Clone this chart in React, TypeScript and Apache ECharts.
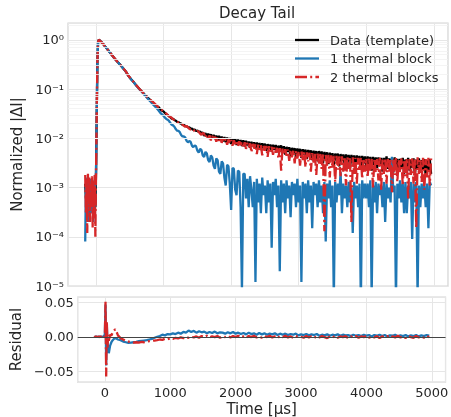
import React, { useEffect, useRef } from "react";
import * as echarts from "echarts";

// Time grid of the decay panel (μs)
const T_MAIN: number[] = [
  -160, -150, -140, -130, -120, -110, -100, -90, -80, -70, -60, -50, -40, -30, -20, -10, 0,
  10, 20, 30, 40, 50, 60, 80, 100, 120, 140, 160, 180, 200,
  240, 280, 320, 360, 400, 440, 480, 520, 560, 600, 640, 680, 720, 760, 800, 840, 880, 920, 960,
  1000, 1020, 1040, 1060, 1080, 1100, 1120, 1140, 1160, 1180, 1200, 1220, 1240, 1260, 1280, 1300, 1320, 1340, 1360, 1380, 1400, 1420, 1440, 1460, 1480, 1500, 1520, 1540, 1560, 1580,
  1600, 1620, 1640, 1660, 1680, 1700, 1720, 1740, 1760, 1780, 1800, 1820, 1840, 1860, 1880, 1900, 1920, 1940, 1960, 1980, 2000, 2020, 2040, 2060, 2080, 2100, 2120, 2140, 2160, 2180,
  2200, 2220, 2240, 2260, 2280, 2300, 2320, 2340, 2360, 2380, 2400, 2420, 2440, 2460, 2480, 2500, 2520, 2540, 2560, 2580, 2600, 2620, 2640, 2660, 2680, 2700, 2720, 2740, 2760, 2780,
  2800, 2820, 2840, 2860, 2880, 2900, 2920, 2940, 2960, 2980, 3000, 3020, 3040, 3060, 3080, 3100, 3120, 3140, 3160, 3180, 3200, 3220, 3240, 3260, 3280, 3300, 3320, 3340, 3360, 3380,
  3400, 3420, 3440, 3460, 3480, 3500, 3520, 3540, 3560, 3580, 3600, 3620, 3640, 3660, 3680, 3700, 3720, 3740, 3760, 3780, 3800, 3820, 3840, 3860, 3880, 3900, 3920, 3940, 3960, 3980,
  4000, 4020, 4040, 4060, 4080, 4100, 4120, 4140, 4160, 4180, 4200, 4220, 4240, 4260, 4280, 4300, 4320, 4340, 4360, 4380, 4400, 4420, 4440, 4460, 4480, 4500, 4520, 4540, 4560, 4580,
  4600, 4620, 4640, 4660, 4680, 4700, 4720, 4740, 4760, 4780, 4800, 4820, 4840, 4860, 4880, 4900, 4920, 4940, 4960,
];

// Data (template), normalized |ΔI|
const DATA_TEMPLATE: number[] = [
  0.0012, 0.0006, 0.0013, 0.0004, 0.0009, 0.0003, 0.0011, 0.0007, 0.0012, 0.0005, 0.001, 0.0003, 0.0013, 0.0006, 0.0009, 0.0004, 0.002,
  0.03, 0.35, 0.88, 1.0, 0.985, 0.955, 0.9, 0.84, 0.78, 0.72, 0.665, 0.615, 0.565,
  0.48, 0.41, 0.355, 0.31, 0.265, 0.228, 0.185, 0.158, 0.137, 0.117, 0.101, 0.088, 0.077, 0.068, 0.0605, 0.054, 0.0475, 0.0435, 0.0378,
  0.0352, 0.0328, 0.0305, 0.0298, 0.0281, 0.0268, 0.0252, 0.0249, 0.0236, 0.0228, 0.0216, 0.0214, 0.0203, 0.0199, 0.0188, 0.0187, 0.0178, 0.0176, 0.0166, 0.0167, 0.0157, 0.0158, 0.0148, 0.0151, 0.0141, 0.0144, 0.0134, 0.0138, 0.0127, 0.0132,
  0.0112, 0.0128, 0.0108, 0.0124, 0.0103, 0.0121, 0.0099, 0.0118, 0.0097, 0.0113, 0.0092, 0.0112, 0.0089, 0.0108, 0.0086, 0.0106, 0.0083, 0.0104, 0.0081, 0.0101, 0.0077, 0.0099, 0.0079, 0.0096, 0.0073, 0.0094, 0.0075, 0.0092, 0.007, 0.0091,
  0.0068, 0.0089, 0.0072, 0.0086, 0.0064, 0.0085, 0.0069, 0.0083, 0.0061, 0.0082, 0.0066, 0.008, 0.0058, 0.0079, 0.0063, 0.0078, 0.0056, 0.0076, 0.0061, 0.0075, 0.0054, 0.0074, 0.0059, 0.0073, 0.0052, 0.0071, 0.0057, 0.0072, 0.005, 0.0069,
  0.0047, 0.0067, 0.0053, 0.0066, 0.0044, 0.0064, 0.0051, 0.0063, 0.0042, 0.0062, 0.0049, 0.0061, 0.004, 0.006, 0.0047, 0.0059, 0.0038, 0.0058, 0.0045, 0.0057, 0.0036, 0.0056, 0.0043, 0.0055, 0.0034, 0.0055, 0.0041, 0.0054, 0.0031, 0.0053,
  0.0039, 0.0052, 0.003, 0.0051, 0.0038, 0.005, 0.0028, 0.0049, 0.0036, 0.0049, 0.0027, 0.0048, 0.0035, 0.0047, 0.0029, 0.0047, 0.0034, 0.0046, 0.0025, 0.0046, 0.0033, 0.0045, 0.0027, 0.0045, 0.0032, 0.0044, 0.0024, 0.0044, 0.0031, 0.0043,
  0.0026, 0.0043, 0.003, 0.0042, 0.0022, 0.0042, 0.0029, 0.0041, 0.0025, 0.0041, 0.0028, 0.004, 0.0021, 0.004, 0.0027, 0.0043, 0.0024, 0.0039, 0.0026, 0.0039, 0.002, 0.0041, 0.0027, 0.0038, 0.0023, 0.0038, 0.0025, 0.004, 0.0019, 0.0037,
  0.0026, 0.004, 0.0022, 0.0037, 0.0025, 0.0039, 0.0018, 0.0037, 0.0024, 0.0039, 0.0021, 0.0036, 0.0023, 0.0038, 0.0017, 0.0036, 0.0022, 0.0038, 0.0019,
];

// 1 thermal block fit
const ONE_BLOCK: number[] = [
  0.00008, 0.0011, 0.0004, 0.0016, 0.0002, 0.0012, 0.0005, 0.0015, 0.0003, 0.001, 0.0006, 0.0014, 0.0002, 0.0012, 0.0004, 0.0015, 0.002,
  0.026, 0.36, 0.89, 0.995, 0.98, 0.955, 0.9, 0.84, 0.78, 0.72, 0.665, 0.615, 0.565,
  0.479, 0.409, 0.354, 0.309, 0.264, 0.227, 0.184, 0.157, 0.136, 0.116, 0.1, 0.087, 0.0755, 0.0655, 0.057, 0.0495, 0.0432, 0.0376, 0.032,
  0.0285, 0.0262, 0.0248, 0.0239, 0.0226, 0.0204, 0.0189, 0.0183, 0.0172, 0.0154, 0.0143, 0.0141, 0.0133, 0.0117, 0.0109, 0.0109, 0.0104, 0.0089, 0.0083, 0.0088, 0.0085, 0.0071, 0.0066, 0.0072, 0.0069, 0.0056, 0.0051, 0.0061, 0.0058, 0.0045,
  0.0042, 0.0053, 0.0049, 0.0036, 0.0033, 0.0045, 0.0041, 0.0028, 0.0024, 0.0039, 0.0036, 0.0021, 0.0019, 0.0034, 0.0031, 0.0016, 0.0011, 0.0029, 0.0027, 0.0012, 0.00035, 0.0025, 0.0024, 0.0009, 0.0007, 0.0022, 0.0021, 0.0004, 0.000008, 0.0019,
  0.0019, 0.0006, 0.0015, 0.0004, 0.0017, 0.0009, 0.0004, 0.0013, 0.000012, 0.0015, 0.0005, 0.0012, 0.0003, 0.0016, 0.0007, 0.0011, 0.0003, 0.0014, 0.0005, 0.0012, 0.00006, 0.0013, 0.0007, 0.0015, 0.0004, 0.0011, 0.00002, 0.0014, 0.0005, 0.0012,
  0.0003, 0.0014, 0.0006, 0.0011, 0.00025, 0.0013, 0.0007, 0.0012, 0.0004, 0.0015, 0.0005, 0.0011, 0.000012, 0.0013, 0.0006, 0.0012, 0.0003, 0.0014, 0.0005, 0.0011, 0.00015, 0.0013, 0.0007, 0.0012, 0.0004, 0.0014, 0.0005, 0.0011, 0.0003, 0.0013,
  0.00008, 0.0012, 0.0006, 0.0014, 0.0004, 0.0011, 0.000005, 0.0013, 0.0005, 0.0012, 0.0007, 0.0021, 0.0003, 0.0012, 0.0006, 0.0011, 0.0004, 0.0013, 0.0005, 0.001, 0.00012, 0.0013, 0.0006, 0.0011, 0.0004, 0.0012, 0.000004, 0.0014, 0.0006, 0.0012,
  0.0006, 0.0012, 0.0004, 0.0014, 0.000006, 0.0011, 0.0005, 0.0013, 0.0003, 0.0012, 0.0007, 0.0011, 0.0004, 0.0013, 0.0002, 0.0012, 0.0006, 0.001, 0.0005, 0.0042, 0.0008, 0.0011, 0.000005, 0.0012, 0.0006, 0.0014, 0.0005, 0.0012, 0.0003, 0.0013,
  0.0003, 0.0011, 0.0006, 0.0013, 0.00009, 0.0012, 0.0005, 0.0013, 0.000006, 0.0011, 0.0004, 0.0012, 0.0006, 0.0011, 0.0004, 0.0012, 0.00015, 0.0013, 0.0011,
];

// 2 thermal blocks fit
const TWO_BLOCKS: number[] = [
  0.0018, 0.0003, 0.0015, 0.00012, 0.0019, 0.0004, 0.0016, 0.0002, 0.0012, 0.0006, 0.0017, 0.00015, 0.0014, 0.0003, 0.0018, 0.0001, 0.002,
  0.028, 0.37, 0.9, 1.0, 0.985, 0.955, 0.9, 0.84, 0.78, 0.72, 0.665, 0.615, 0.565,
  0.48, 0.412, 0.356, 0.31, 0.266, 0.229, 0.186, 0.159, 0.138, 0.118, 0.102, 0.089, 0.078, 0.0685, 0.061, 0.0548, 0.0488, 0.0432, 0.0392,
  0.0348, 0.0335, 0.0318, 0.0296, 0.0281, 0.0272, 0.0262, 0.0244, 0.0236, 0.0231, 0.0223, 0.0207, 0.0199, 0.0201, 0.0192, 0.0179, 0.0172, 0.0178, 0.0169, 0.0156, 0.0151, 0.0158, 0.0152, 0.0139, 0.0132, 0.0141, 0.0136, 0.0125, 0.0118, 0.0129,
  0.0124, 0.0102, 0.0119, 0.0098, 0.0115, 0.0091, 0.0112, 0.0094, 0.0108, 0.0085, 0.0106, 0.0089, 0.0103, 0.0081, 0.0101, 0.0084, 0.0097, 0.0074, 0.0095, 0.0079, 0.0092, 0.0071, 0.0091, 0.0076, 0.0088, 0.0068, 0.0087, 0.0073, 0.0085, 0.0064,
  0.0083, 0.0061, 0.0081, 0.0066, 0.0079, 0.0052, 0.0077, 0.0062, 0.0076, 0.0048, 0.0074, 0.0059, 0.0073, 0.0045, 0.0071, 0.0056, 0.007, 0.0042, 0.0069, 0.0054, 0.0067, 0.0046, 0.0066, 0.0051, 0.0064, 0.0039, 0.0063, 0.0022, 0.0062, 0.0047,
  0.006, 0.0044, 0.0059, 0.0035, 0.0058, 0.0041, 0.0057, 0.0031, 0.0056, 0.0039, 0.0055, 0.0028, 0.0054, 0.0036, 0.0053, 0.0026, 0.0052, 0.0034, 0.0051, 0.0021, 0.005, 0.0032, 0.0049, 0.0018, 0.0049, 0.003, 0.0048, 0.0024, 0.0047, 0.00013,
  0.0046, 0.0027, 0.0046, 0.0016, 0.0045, 0.0025, 0.0044, 0.0013, 0.0044, 0.0023, 0.0043, 0.0017, 0.0043, 0.0021, 0.0042, 0.0011, 0.0042, 0.0024, 0.0041, 0.0002, 0.0041, 0.0019, 0.004, 0.0012, 0.004, 0.0022, 0.0041, 0.0015, 0.0039, 0.0021,
  0.0039, 0.0016, 0.004, 0.0022, 0.0038, 0.001, 0.0039, 0.002, 0.0038, 0.0014, 0.004, 0.0009, 0.0037, 0.0019, 0.0039, 0.0012, 0.0038, 0.0021, 0.0039, 0.0008, 0.0038, 0.0018, 0.0042, 0.0013, 0.0037, 0.002, 0.0039, 0.0011, 0.0037, 0.0017,
  0.0039, 0.0006, 0.0038, 0.0018, 0.0039, 0.0012, 0.0037, 0.00015, 0.0041, 0.0019, 0.0038, 0.0013, 0.004, 0.0009, 0.0038, 0.0016, 0.004, 0.0011, 0.0039,
];

// Time grid of the residual panel (μs)
const T_RES: number[] = [
  -160, -150, -140, -130, -120, -110, -100, -90, -80, -70, -60, -50, -40, -30, -20, -10, 0,
  10, 20, 30, 40, 50, 60, 80, 100, 120, 140, 160, 180, 200,
  240, 280, 320, 360, 400, 440, 480, 520, 560, 600, 640, 680, 720, 760, 800, 840, 880, 920, 960, 1000,
  1040, 1080, 1120, 1160, 1200, 1240, 1280, 1320, 1360, 1400, 1440, 1480, 1520, 1560, 1600, 1640, 1680, 1720, 1760, 1800,
  1840, 1880, 1920, 1960, 2000, 2040, 2080, 2120, 2160, 2200, 2240, 2280, 2320, 2360, 2400, 2440, 2480, 2520, 2560, 2600,
  2640, 2680, 2720, 2760, 2800, 2840, 2880, 2920, 2960, 3000, 3040, 3080, 3120, 3160, 3200, 3240, 3280, 3320, 3360, 3400,
  3440, 3480, 3520, 3560, 3600, 3640, 3680, 3720, 3760, 3800, 3840, 3880, 3920, 3960, 4000, 4040, 4080, 4120, 4160, 4200,
  4240, 4280, 4320, 4360, 4400, 4440, 4480, 4520, 4560, 4600, 4640, 4680, 4720, 4760, 4800, 4840, 4880, 4920, 4960,
];

const RES_ONE: number[] = [
  0.0004, -0.0003, 0.0006, -0.0002, 0.0003, -0.0005, 0.0004, 0.0001, -0.0004, 0.0005, -0.0002, 0.0003, -0.0006, 0.0002, 0.0004, -0.0003, 0.005,
  0.047, -0.042, 0.016, -0.009, -0.017, -0.024, -0.013, -0.008, -0.005, -0.003, -0.002, -0.003, -0.004,
  -0.005, -0.007, -0.008, -0.009, -0.0085, -0.008, -0.0075, -0.0065, -0.006, -0.0055, -0.005, -0.004, -0.003, -0.0015, 0.0, 0.001, 0.003, 0.002, 0.004, 0.0035,
  0.005, 0.004, 0.006, 0.0045, 0.007, 0.006, 0.009, 0.007, 0.0085, 0.006, 0.008, 0.0065, 0.0075, 0.005, 0.007, 0.0055, 0.0075, 0.005, 0.0065, 0.006,
  0.0045, 0.0065, 0.005, 0.007, 0.0045, 0.006, 0.004, 0.0055, 0.0035, 0.006, 0.004, 0.005, 0.003, 0.0055, 0.0035, 0.005, 0.003, 0.0045, 0.0035, 0.005,
  0.0025, 0.0045, 0.003, 0.0045, 0.0025, 0.004, 0.003, 0.0045, 0.002, 0.0035, 0.0025, 0.004, 0.002, 0.0035, 0.0025, 0.004, 0.0015, 0.003, 0.002, 0.0035,
  0.0015, 0.003, 0.002, 0.0035, 0.0015, 0.003, 0.002, 0.0025, 0.001, 0.003, 0.0015, 0.0025, 0.001, 0.003, 0.0015, 0.0025, 0.0005, 0.0025, 0.0015, 0.003,
  0.001, 0.0025, 0.0005, 0.002, 0.0015, 0.003, 0.0005, 0.002, 0.001, 0.0025, 0.0005, 0.002, 0.001, 0.0025, 0.0005, 0.002, 0.001, 0.0025, 0.0015,
];

const RES_TWO: number[] = [
  0.0008, -0.0006, 0.001, -0.0004, 0.0007, -0.0009, 0.0005, 0.0002, -0.0007, 0.0009, -0.0003, 0.0006, -0.001, 0.0004, 0.0008, -0.0005, 0.003,
  0.051, -0.058, 0.022, -0.016, 0.003, -0.006, 0.003, 0.002, 0.006, 0.009, 0.011, 0.007, 0.002,
  -0.002, -0.004, -0.006, -0.007, -0.008, -0.0085, -0.008, -0.0085, -0.0075, -0.008, -0.007, -0.0065, -0.006, -0.0055, -0.005, -0.004, -0.0045, -0.003, -0.0035, -0.002,
  -0.003, -0.0015, -0.0025, -0.001, -0.002, -0.0005, -0.0015, 0.0, -0.001, 0.0005, -0.0015, 0.001, -0.0005, 0.0015, -0.001, 0.0005, -0.0005, 0.001, -0.0015, 0.0005,
  -0.0005, 0.0015, -0.001, 0.001, -0.0005, 0.0015, -0.001, 0.0005, -0.0015, 0.001, -0.0005, 0.0015, -0.001, 0.0005, -0.0015, 0.001, -0.0005, 0.0015, -0.001, 0.0005,
  -0.002, 0.001, -0.0005, 0.0015, -0.001, 0.0005, -0.0015, 0.001, -0.0005, 0.0, -0.0015, 0.001, -0.001, 0.0005, -0.0015, 0.0005, -0.001, 0.001, -0.0005, -0.002,
  0.0005, -0.001, 0.001, -0.0015, 0.0005, -0.0005, 0.001, -0.002, 0.0005, -0.001, 0.001, -0.0015, 0.0005, -0.0005, 0.001, -0.0015, 0.0005, -0.001, 0.001, -0.002,
  0.0005, -0.0005, 0.001, -0.0015, 0.0005, -0.001, 0.0015, -0.001, 0.0005, -0.002, 0.001, -0.0005, -0.0015, 0.001, -0.001, 0.0005, -0.0015, 0.001, -0.0005,
];

const SERIES_NAMES = ["Data (template)", "1 thermal block", "2 thermal blocks"];
const SERIES_COLORS = ["#000000", "#1f77b4", "#d62728"];
const DASH_DOT = [12, 3.2, 2, 3.2];
const X_TICK_STEP = 1000;

const SUP: Record<string, string> = { "-": "⁻", "0": "⁰", "1": "¹", "2": "²", "3": "³", "4": "⁴", "5": "⁵", "6": "⁶", "7": "⁷", "8": "⁸", "9": "⁹" };

export default function App() {
  const ref = useRef<HTMLDivElement>(null);
  useEffect(() => {
    if (!ref.current) return;
    const chart = echarts.init(ref.current, undefined, { renderer: "svg" });
    const pts = (xs: number[], ys: number[]) => xs.map((t, i) => [t, ys[i]]);
    const minor: { yAxis: number }[] = [];
    for (let k = -5; k <= 0; k++) {
      for (let m = 2; m <= 9; m++) {
        const v = m * Math.pow(10, k);
        if (v < 2.2) minor.push({ yAxis: v });
      }
    }
    const font = "DejaVu Sans";
    const txt = "#262626";
    const lw = 2.3;
    const gridLine = { show: true, lineStyle: { color: "#e6e6e6", width: 1 } };
    const xCommon = {
      type: "value" as const,
      min: -415,
      max: 5210,
      splitNumber: 5,
      axisLine: { show: false },
      axisTick: { show: false },
      splitLine: {
        show: true,
        lineStyle: { color: "#e6e6e6", width: 1 },
        interval: (_i: number, v: any) => Math.abs(Number(v) % X_TICK_STEP) < 1e-6,
      },
    };
    const legendGraphics: any[] = [];
    SERIES_NAMES.forEach((name, i) => {
      const y = 40 + i * 18.5;
      legendGraphics.push({
        type: "line",
        shape: { x1: 295, y1: y, x2: 319, y2: y },
        style: { stroke: SERIES_COLORS[i], lineWidth: lw, lineDash: i === 2 ? DASH_DOT : null },
        silent: true,
        z: 100,
      });
      legendGraphics.push({
        type: "text",
        x: 330,
        y: y,
        style: { text: name, fill: txt, font: `13px "${font}"`, verticalAlign: "middle", align: "left" },
        silent: true,
        z: 100,
      });
    });
    chart.setOption({
      animation: false,
      textStyle: { fontFamily: font, color: txt },
      title: {
        text: "Decay Tail",
        left: 214,
        top: 0,
        textStyle: { fontSize: 15, fontWeight: "normal", color: txt, fontFamily: font },
      },
      graphic: legendGraphics,
      grid: [
        { left: 68, top: 23, width: 380, height: 263, show: true, borderColor: "#d4d4d4", borderWidth: 1.25, backgroundColor: "#fff" },
        { left: 68, top: 297, width: 380, height: 87, show: true, borderColor: "#d4d4d4", borderWidth: 1.25, backgroundColor: "#fff" },
      ],
      xAxis: [
        { ...xCommon, gridIndex: 0, axisLabel: { show: false } },
        {
          ...xCommon,
          gridIndex: 1,
          axisLabel: {
            fontSize: 13,
            color: txt,
            margin: 4,
            fontFamily: font,
            formatter: (v: number) => (Math.abs(v % X_TICK_STEP) < 1e-6 ? String(v) : ""),
          },
          name: "Time [μs]",
          nameLocation: "middle",
          nameGap: 19,
          nameTextStyle: { fontSize: 15, color: txt, fontFamily: font },
        },
      ],
      yAxis: [
        {
          type: "log",
          gridIndex: 0,
          logBase: 10,
          min: 1e-5,
          max: 2.2,
          axisLine: { show: false },
          axisTick: { show: false },
          splitLine: gridLine,
          axisLabel: {
            fontSize: 13,
            color: txt,
            margin: 4,
            fontFamily: font,
            formatter: (v: number) => {
              const e = Math.log10(v);
              const r = Math.round(e);
              if (Math.abs(e - r) > 1e-6) return "";
              return "10" + String(r).split("").map((c) => SUP[c] || c).join("");
            },
          },
          name: "Normalized |ΔI|",
          nameLocation: "middle",
          nameGap: 34,
          nameTextStyle: { fontSize: 15, color: txt, fontFamily: font },
        },
        {
          type: "value",
          gridIndex: 1,
          min: -0.066,
          max: 0.058,
          minInterval: 0.05,
          maxInterval: 0.05,
          axisLine: { show: false },
          axisTick: { show: false },
          splitLine: gridLine,
          axisLabel: {
            fontSize: 13,
            color: txt,
            margin: 4,
            fontFamily: font,
            formatter: (v: number) => {
              const q = v / 0.05;
              if (Math.abs(q - Math.round(q)) > 1e-6) return "";
              const s = Math.abs(v).toFixed(2);
              return v < -1e-9 ? "−" + s : s;
            },
          },
          name: "Residual",
          nameLocation: "middle",
          nameGap: 42,
          nameTextStyle: { fontSize: 15, color: txt, fontFamily: font },
        },
      ],
      series: [
        {
          name: "minor-grid",
          type: "line",
          xAxisIndex: 0,
          yAxisIndex: 0,
          data: [],
          silent: true,
          markLine: {
            silent: true,
            symbol: "none",
            label: { show: false },
            lineStyle: { color: "#f1f1f1", width: 0.8, type: "solid" },
            data: minor,
          },
        },
        {
          name: SERIES_NAMES[0],
          type: "line",
          xAxisIndex: 0,
          yAxisIndex: 0,
          data: pts(T_MAIN, DATA_TEMPLATE),
          symbol: "none",
          showSymbol: false,
          color: SERIES_COLORS[0],
          lineStyle: { color: SERIES_COLORS[0], width: lw },
        },
        {
          name: SERIES_NAMES[1],
          type: "line",
          xAxisIndex: 0,
          yAxisIndex: 0,
          data: pts(T_MAIN, ONE_BLOCK),
          symbol: "none",
          showSymbol: false,
          color: SERIES_COLORS[1],
          lineStyle: { color: SERIES_COLORS[1], width: lw },
        },
        {
          name: SERIES_NAMES[2],
          type: "line",
          xAxisIndex: 0,
          yAxisIndex: 0,
          data: pts(T_MAIN, TWO_BLOCKS),
          symbol: "none",
          showSymbol: false,
          color: SERIES_COLORS[2],
          lineStyle: { color: SERIES_COLORS[2], width: lw, type: DASH_DOT },
        },
        {
          name: "zero-line",
          type: "line",
          xAxisIndex: 1,
          yAxisIndex: 1,
          data: [],
          silent: true,
          markLine: {
            silent: true,
            symbol: "none",
            label: { show: false },
            lineStyle: { color: "#444444", width: 1, type: "solid" },
            data: [{ yAxis: 0 }],
          },
        },
        {
          name: "res-1",
          type: "line",
          xAxisIndex: 1,
          yAxisIndex: 1,
          data: pts(T_RES, RES_ONE),
          symbol: "none",
          showSymbol: false,
          color: SERIES_COLORS[1],
          lineStyle: { color: SERIES_COLORS[1], width: lw },
        },
        {
          name: "res-2",
          type: "line",
          xAxisIndex: 1,
          yAxisIndex: 1,
          data: pts(T_RES, RES_TWO),
          symbol: "none",
          showSymbol: false,
          color: SERIES_COLORS[2],
          lineStyle: { color: SERIES_COLORS[2], width: lw, type: DASH_DOT },
        },
      ],
    });
    return () => chart.dispose();
  }, []);
  return <div ref={ref} style={{ position: "fixed", left: 0, top: 0, width: 451, height: 417 }} />;
}
